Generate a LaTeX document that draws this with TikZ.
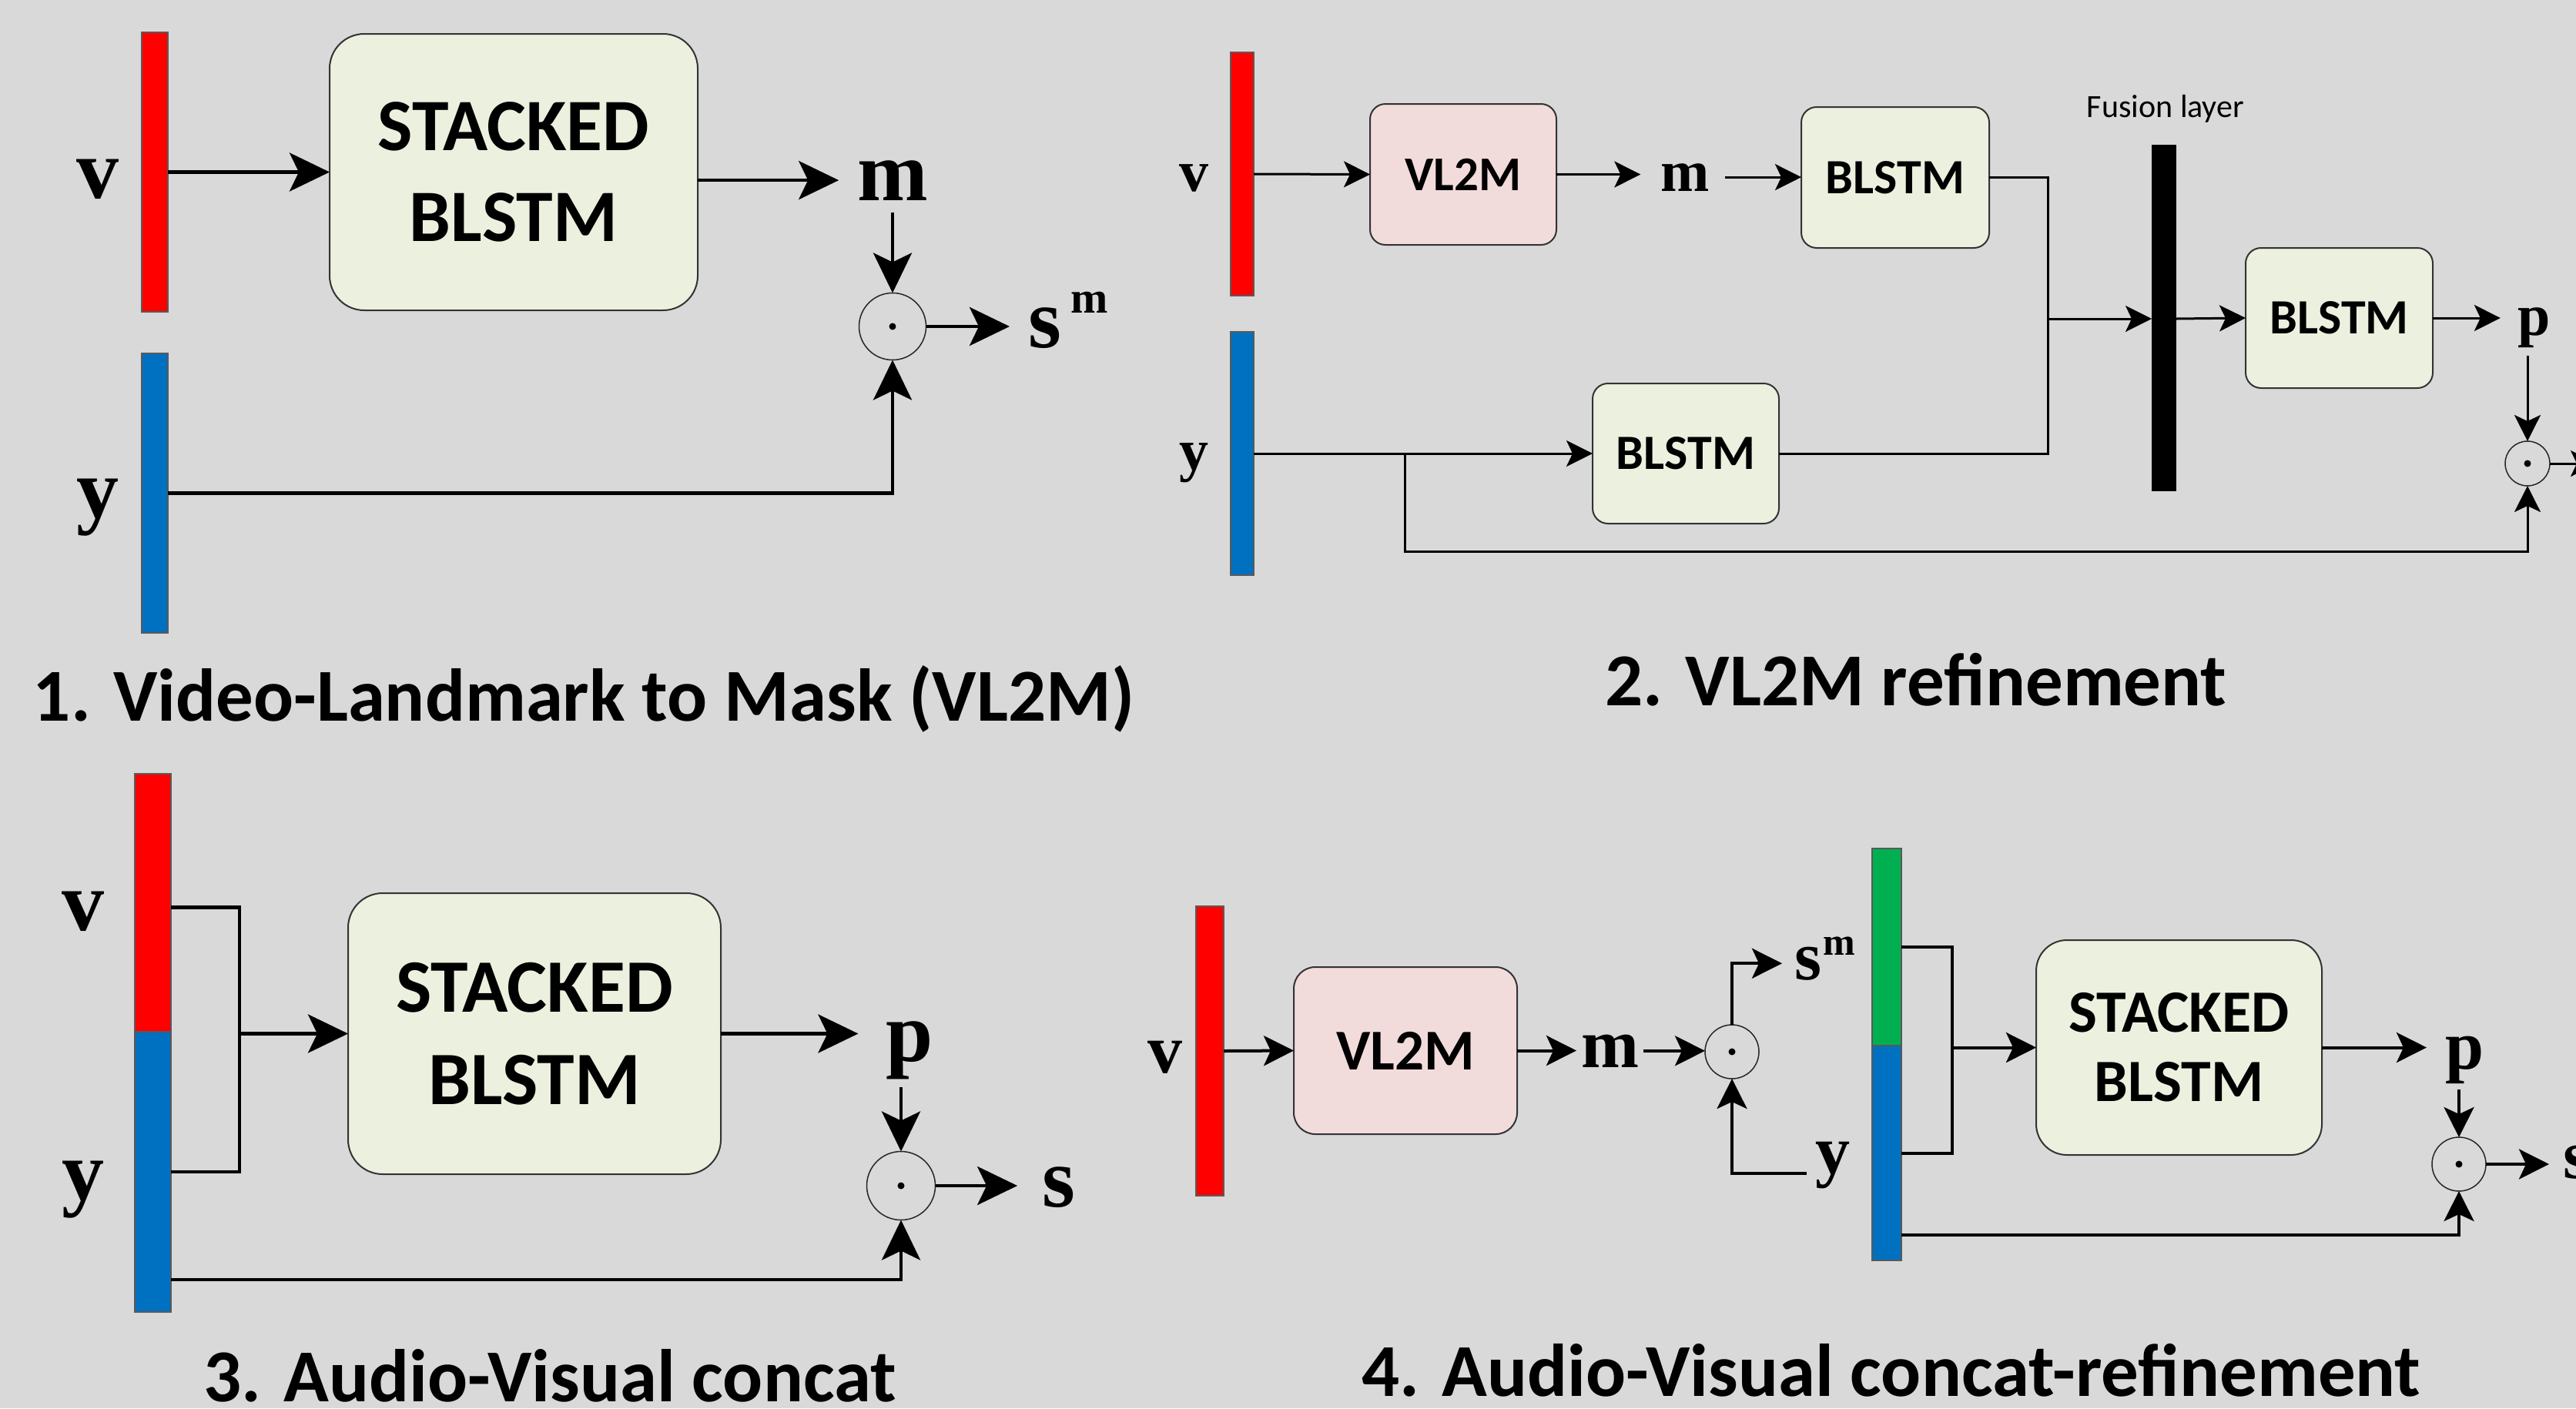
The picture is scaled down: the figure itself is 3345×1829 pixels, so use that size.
\documentclass[tikz,border=0pt]{standalone}
\usepackage{fontspec}
\newfontfamily\carl{Carlito}
\newfontfamily\tnr{Liberation Serif}
\usetikzlibrary{arrows.meta,calc}
\definecolor{bgc}{HTML}{D9D9D9}
\definecolor{vred}{HTML}{FF0000}
\definecolor{yblue}{HTML}{0070C0}
\definecolor{sgreen}{HTML}{00B050}
\definecolor{boxg}{HTML}{EBF1DE}
\definecolor{boxp}{HTML}{F2DCDB}
\newcommand\fsz[2]{\fontsize{#1}{#2}\selectfont}
\begin{document}
\begin{tikzpicture}[x=1pt,y=-1pt,
  bar/.style={draw=black!65,line width=1.2pt,inner sep=0pt,outer sep=0pt},
  gbox/.style={draw=black!80,line width=2pt,fill=boxg,inner sep=0pt,outer sep=0pt,align=center},
  pbox/.style={gbox,fill=boxp},
  lab/.style={inner sep=0pt,outer sep=0pt},
  labA/.style={lab,font=\tnr\bfseries\fsz{110}{110}},
  labB/.style={lab,font=\tnr\bfseries\fsz{76}{76}},
  labD/.style={lab,font=\tnr\bfseries\fsz{90}{90}},
  odot/.style={circle,draw=black!85,line width=1.5pt,inner sep=0pt,outer sep=0pt,minimum size=#1},
  title/.style={inner sep=0pt,font=\carl\bfseries\fsz{97}{97},anchor=base},
  ln1/.style={line width=4.5pt},
  a1/.style={ln1,-{Stealth[length=52pt,width=50pt,inset=12pt]}},
  ln2/.style={line width=3pt},
  a2/.style={ln2,-{Stealth[length=34pt,width=34pt,inset=8pt]}},
  ln4/.style={line width=4pt},
  a4/.style={ln4,-{Stealth[length=39pt,width=39pt,inset=9pt]}}
]
\useasboundingbox (0,0) rectangle (3345,1829);
\clip (0,0) rectangle (3345,1829);
\fill[bgc] (0,0) rectangle (3345,1829);

% ---------------- Panel 1 ----------------
\node[bar,fill=vred,minimum width=34pt,minimum height=363pt] (v1bar) at (201,223.5) {};
\node[bar,fill=yblue,minimum width=34pt,minimum height=363pt] (y1bar) at (201,640.5) {};
\node[labA,anchor=base] (v1) at (127,257) {v};
\node[labA,anchor=base] (y1) at (127,672) {y};
\node[gbox,minimum width=478pt,minimum height=359pt,rounded corners=45pt,
      font=\carl\bfseries\fsz{96}{118}] (b1) at (667,223.5) {STACKED\\BLSTM};
\node[labA,anchor=base] (m1) at (1159,260) {m};
\node[odot=87pt] (c1) at (1159,424) {};
\node[labA,anchor=base west] (s1) at (1335,451) {s};
\node[lab,font=\tnr\bfseries\fsz{58}{58},anchor=base west] (s1m) at (1390,406) {m};
\node[title] (t1) at (758,936) {1. Video-Landmark to Mask (VL2M)};

\draw[a1] (v1bar.east) -- (b1.west);
\draw[a1,shorten >=24pt] (b1.east |- m1) -- (m1.west);
\draw[a1,shorten <=16pt] (m1.south -| c1) -- (c1.north);
\draw[a1,shorten >=24pt] (c1.east) -- (c1.east -| s1.west);
\draw[a1] (y1bar.east) -| (c1.south);

% ---------------- Panel 2 ----------------
\node[bar,fill=vred,minimum width=30pt,minimum height=316pt] (v2bar) at (1613,226) {};
\node[bar,fill=yblue,minimum width=30pt,minimum height=316pt] (y2bar) at (1613,589) {};
\node[labB,anchor=base] (v2) at (1550,248) {v};
\node[labB,anchor=base] (y2) at (1550,610) {y};
\node[pbox,minimum width=242pt,minimum height=183pt,rounded corners=20pt,
      font=\carl\bfseries\fsz{63}{63}] (l2) at (1900,226.5) {VL2M};
\node[labB,anchor=base] (m2) at (2188,248) {m};
\node[gbox,minimum width=244pt,minimum height=183pt,rounded corners=20pt,
      font=\carl\bfseries\fsz{64}{64}] (b2a) at (2461,230.5) {BLSTM};
\node[gbox,minimum width=242pt,minimum height=182pt,rounded corners=20pt,
      font=\carl\bfseries\fsz{64}{64}] (b2b) at (2189,589) {BLSTM};
\node[fill=black,inner sep=0pt,outer sep=0pt,minimum width=32pt,minimum height=450pt] (f2) at (2810,413) {};
\node[lab,font=\carl\fsz{42}{42},anchor=base] (f2lab) at (2812,152) {Fusion layer};
\node[gbox,minimum width=243pt,minimum height=182pt,rounded corners=20pt,
      font=\carl\bfseries\fsz{64}{64}] (b2c) at (3037.5,413) {BLSTM};
\node[labB,anchor=base] (p2) at (3291,435) {p};
\node[odot=58pt] (c2) at (3282,602) {};
\coordinate (j2) at (2659,414);
\coordinate (br2) at (1824,589);
\coordinate (o2) at (3372,602);
\node[title] (t2) at (2488,916) {2. VL2M refinement};

\draw[a2] (v2bar.east) -- (l2.west);
\draw[a2,shorten >=26pt] (l2.east) -- (l2.east -| m2.west);
\draw[a2,shorten <=20pt] (m2.east) -- (m2.east -| b2a.west);
\draw[ln2] (b2a.east) -| (j2);
\draw[ln2] (b2b.east) -| (j2);
\draw[a2] (j2) -- (j2 -| f2.west);
\draw[a2] (f2.east |- j2) -- (b2c.west);
\draw[a2] (y2bar.east) -- (b2b.west);
\draw[a2] (br2) |- ($(c2.south)+(0,85)$) -- (c2.south);
\draw[a2,shorten >=23pt] (b2c.east) -- (b2c.east -| p2.west);
\draw[a2,shorten <=11pt] (p2.south -| c2) -- (c2.north);
\draw[a2] (c2.east) -- (o2);

% ---------------- Panel 3 ----------------
\node[bar,fill=vred,minimum width=47pt,minimum height=335pt] (v3bar) at (198.5,1172.5) {};
\node[bar,fill=yblue,minimum width=47pt,minimum height=364pt] (y3bar) at (198.5,1522) {};
\node[labA,anchor=base] (v3) at (108,1208) {v};
\node[labA,anchor=base] (y3) at (108,1558) {y};
\node[gbox,minimum width=484pt,minimum height=365pt,rounded corners=45pt,
      font=\carl\bfseries\fsz{98}{120}] (b3) at (694,1342.5) {STACKED\\BLSTM};
\coordinate (k3) at (311,1342.5);
\node[labA,anchor=base] (p3) at (1181,1378) {p};
\node[odot=89pt] (c3) at (1170,1540) {};
\node[labA,anchor=base] (s3) at (1374.5,1567) {s};
\node[title] (t3) at (714,1820) {3. Audio-Visual concat};

\draw[ln1] ($(v3bar.east)+(0,6)$) -| (k3) |- (y3bar.east);
\draw[a1] (k3) -- (b3.west);
\draw[a1,shorten >=36pt] (b3.east) -- (b3.east -| p3.west);
\draw[a1,shorten <=11pt] (p3.south -| c3) -- (c3.north);
\draw[a1,shorten >=32pt] (c3.east) -- (c3.east -| s3.west);
\draw[a1] ($(y3bar.east)+(0,140)$) -| (c3.south);

% ---------------- Panel 4 ----------------
\node[bar,fill=vred,minimum width=36pt,minimum height=376pt] (v4bar) at (1571,1365) {};
\node[labD,anchor=base] (v4) at (1513,1393) {v};
\node[pbox,minimum width=290pt,minimum height=217pt,rounded corners=28pt,
      font=\carl\bfseries\fsz{75}{75}] (l4) at (1825,1364.5) {VL2M};
\node[labD,anchor=base] (m4) at (2090.5,1386) {m};
\node[odot=70pt] (c4) at (2249,1366) {};
\node[labD,anchor=base west] (s4) at (2330,1272) {s};
\node[lab,font=\tnr\bfseries\fsz{50}{50},anchor=base west] (s4m) at (2367,1240) {m};
\node[labD,anchor=base] (y4) at (2380,1524) {y};
\node[bar,fill=sgreen,minimum width=38pt,minimum height=256pt] (g4bar) at (2450,1230) {};
\node[bar,fill=yblue,minimum width=38pt,minimum height=279pt] (y4bar) at (2450,1497.5) {};
\coordinate (k4) at (2535,1360.5);
\node[gbox,minimum width=371pt,minimum height=279pt,rounded corners=40pt,
      font=\carl\bfseries\fsz{78}{90}] (b4) at (2829.5,1360.5) {STACKED\\BLSTM};
\node[labD,anchor=base] (p4) at (3200,1388) {p};
\node[odot=70pt] (c5) at (3193,1512) {};
\node[labD,anchor=base west] (s5) at (3328,1530) {s};
\node[title] (t4) at (2456,1813) {4. Audio-Visual concat-refinement};

\draw[a4] (v4bar.east) -- (l4.west);
\draw[a4,shorten >=6pt] (l4.east) -- (l4.east -| m4.west);
\draw[a4,shorten <=6pt] (m4.east) -- (m4.east -| c4.west);
\draw[a4,shorten >=16pt] (c4.north) |- (s4.west);
\draw[a4] ($(y4.west)+(-12,11)$) -| (c4.south);
\draw[ln4] (g4bar.east) -| (k4) |- (y4bar.east);
\draw[a4] (k4) -- (b4.west);
\draw[a4,shorten >=24pt] (b4.east) -- (b4.east -| p4.west);
\draw[a4,shorten <=8pt] (p4.south -| c5) -- (c5.north);
\draw[a4,shorten >=18pt] (c5.east) -- (c5.east -| s5.west);
\draw[a4] ($(y4bar.east)+(0,106.5)$) -| (c5.south);

% dots of the product circles
\foreach \c in {c1,c2,c3,c4,c5} \fill (\c.center) circle[radius=4.5];
\end{tikzpicture}
\end{document}
